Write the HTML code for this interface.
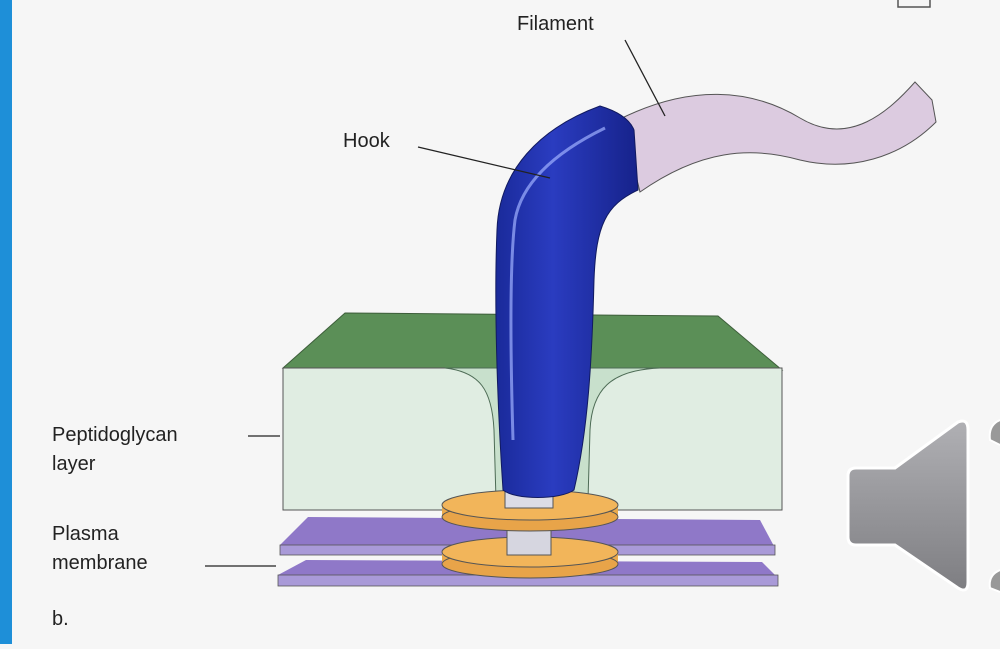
<!DOCTYPE html>
<html><head><style>
body{margin:0;width:1000px;height:644px;overflow:hidden;background:#f6f6f6;font-family:"Liberation Sans",sans-serif}
</style></head><body>
<svg width="1000" height="644" xmlns="http://www.w3.org/2000/svg">
<defs>
<linearGradient id="sp" x1="0" y1="0" x2="0" y2="1"><stop offset="0" stop-color="#b0b0b4"/><stop offset="1" stop-color="#7e7e82"/></linearGradient>
<linearGradient id="bl" x1="0" y1="0" x2="1" y2="0"><stop offset="0" stop-color="#1a2a9a"/><stop offset="0.4" stop-color="#2a3cc0"/><stop offset="1" stop-color="#16228a"/></linearGradient>
</defs>
<rect width="1000" height="644" fill="#f6f6f6"/>
<rect x="0" y="0" width="12" height="644" fill="#1e8fd8"/>
<path d="M898,0 L898,7 L930,7 L930,0" fill="none" stroke="#555" stroke-width="1.5"/>
<!-- block -->
<polygon points="283,368 345,313 718,316 782,370" fill="#5b8f57" stroke="#3d5e3a"/>
<rect x="283" y="368" width="499" height="142" fill="#e0ede2" stroke="#555"/>
<path d="M445,368 C480,372 492,390 494,430 L496,500 L588,500 L590,430 C592,390 610,370 660,368 Z" fill="#c8e0cc" stroke="#4d6b55"/>
<!-- plates -->
<polygon points="280,545 308,517 760,520 775,548" fill="#8f78c8"/>
<rect x="280" y="545" width="495" height="10" fill="#a99ad8" stroke="#555" stroke-width="0.8"/>
<polygon points="278,575 306,560 762,562 778,578" fill="#8f78c8"/>
<rect x="278" y="575" width="500" height="11" fill="#a99ad8" stroke="#555" stroke-width="0.8"/>
<!-- discs -->
<rect x="442" y="552" width="176" height="12" fill="#eaa94c"/>
<ellipse cx="530" cy="564" rx="88" ry="14" fill="#e8a449" stroke="#555"/>
<ellipse cx="530" cy="552" rx="88" ry="15" fill="#f2b55a" stroke="#555"/>
<rect x="507" y="520" width="44" height="35" fill="#d6d6e0" stroke="#555"/>
<rect x="442" y="505" width="176" height="12" fill="#eaa94c"/>
<ellipse cx="530" cy="517" rx="88" ry="14" fill="#e8a449" stroke="#555"/>
<ellipse cx="530" cy="505" rx="88" ry="15" fill="#f2b55a" stroke="#555"/>
<rect x="505" y="470" width="48" height="38" fill="#dcdce6" stroke="#555"/>
<!-- filament -->
<path d="M622,118 C690,85 750,88 800,118 C850,148 890,110 915,82 L932,100 L936,122 C900,158 850,172 800,160 C750,146 700,150 640,192 Z" fill="#dccbe0" stroke="#555"/>
<!-- hook -->
<path d="M503,490 C497,400 494,300 497,230 C499,170 540,128 600,106 C620,112 630,120 634,130 L638,190 C606,205 596,225 594,280 C592,360 588,430 574,490 C560,500 515,500 503,490 Z" fill="url(#bl)" stroke="#111a60"/>
<path d="M513,440 C510,340 510,260 515,220 C522,180 560,150 605,128" fill="none" stroke="#9fb0ff" stroke-width="3" opacity="0.7"/>
<!-- labels -->
<g font-size="20" fill="#222">
<text x="517" y="30">Filament</text>
<text x="343" y="147">Hook</text>
<text x="52" y="441">Peptidoglycan</text>
<text x="52" y="470">layer</text>
<text x="52" y="540">Plasma</text>
<text x="52" y="569">membrane</text>
<text x="52" y="625">b.</text>
</g>
<g stroke="#222" stroke-width="1.3">
<line x1="625" y1="40" x2="665" y2="116"/>
<line x1="418" y1="147" x2="550" y2="178"/>
<line x1="248" y1="436" x2="280" y2="436"/>
<line x1="205" y1="566" x2="276" y2="566"/>
</g>
<!-- speaker -->
<path d="M856,468 L895,468 L958,422 Q968,418 968,430 L968,582 Q968,594 958,588 L895,545 L856,545 Q848,545 848,537 L848,476 Q848,468 856,468 Z" fill="url(#sp)" stroke="#fff" stroke-width="3"/>
<path d="M1000,420 Q988,425 990,440 L1000,445" fill="#999" stroke="#fff" stroke-width="2"/>
<path d="M1000,570 Q988,575 990,588 L1000,592" fill="#999" stroke="#fff" stroke-width="2"/>
</svg>
</body></html>
